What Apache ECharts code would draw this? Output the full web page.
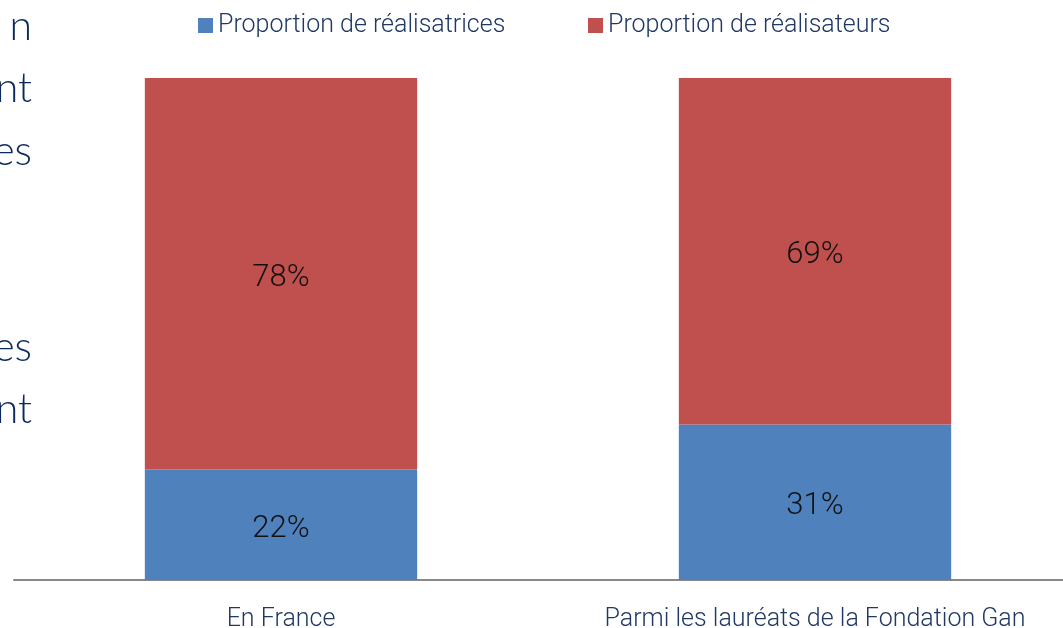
<!DOCTYPE html>
<html><head><meta charset="utf-8">
<script src="https://cdn.jsdelivr.net/npm/echarts@6/dist/echarts.min.js"></script>
<style>html,body{margin:0;padding:0;background:#fff}#c{width:1063px;height:628px}</style>
</head><body><div id="c"></div>
<script>
const categories = ['En France', 'Parmi les lauréats de la Fondation Gan'];
const femmes = [22, 31];
const hommes = [78, 69];
const seriesNames = ['Proportion de réalisatrices', 'Proportion de réalisateurs'];
const sideFragments = ['n', 'nt', 'es', 'es', 'nt'];
const sideFragmentTops = [6, 68, 131, 327, 389];

const chart = echarts.init(document.getElementById('c'));
const font = 'Roboto';
const lab = {show: true, position: 'inside', offset: [0, 4], formatter: p => p.value + '%', color: '#111', fontSize: 31, fontFamily: font, fontWeight: 300};
const legendText = {fontSize: 25, color: '#1F3864', fontFamily: font, fontWeight: 300};
chart.setOption({
  animation: false,
  legend: [
    {top: 8, left: 193, itemWidth: 15, itemHeight: 15, icon: 'rect', textStyle: legendText, data: [seriesNames[0]]},
    {top: 8, left: 583, itemWidth: 15, itemHeight: 15, icon: 'rect', textStyle: legendText, data: [seriesNames[1]]}
  ],
  graphic: sideFragments.map((t, i) => ({
    type: 'text', right: 1063 - 32, top: sideFragmentTops[i],
    style: {text: t, fontSize: 41, fontFamily: 'Lato', fontWeight: 300, fill: '#0B2A5B', textAlign: 'right'}
  })),
  grid: {left: 14, width: 1068, top: 78, bottom: 48, outerBoundsMode: 'none', containLabel: false},
  xAxis: {
    type: 'category', data: categories,
    axisLine: {lineStyle: {color: '#888', width: 2}},
    axisTick: {show: false},
    axisLabel: {interval: 0, hideOverlap: false, fontSize: 25, color: '#1F3864', fontFamily: font, fontWeight: 300, margin: 27}
  },
  yAxis: {type: 'value', min: 0, max: 100, show: false, splitLine: {show: false}},
  series: [
    {name: seriesNames[0], type: 'bar', stack: 't', data: femmes, barWidth: '51%', itemStyle: {color: '#4F81BD'}, label: lab},
    {name: seriesNames[1], type: 'bar', stack: 't', data: hommes, barWidth: '51%', itemStyle: {color: '#C0504D'}, label: lab}
  ]
});
</script></body></html>
